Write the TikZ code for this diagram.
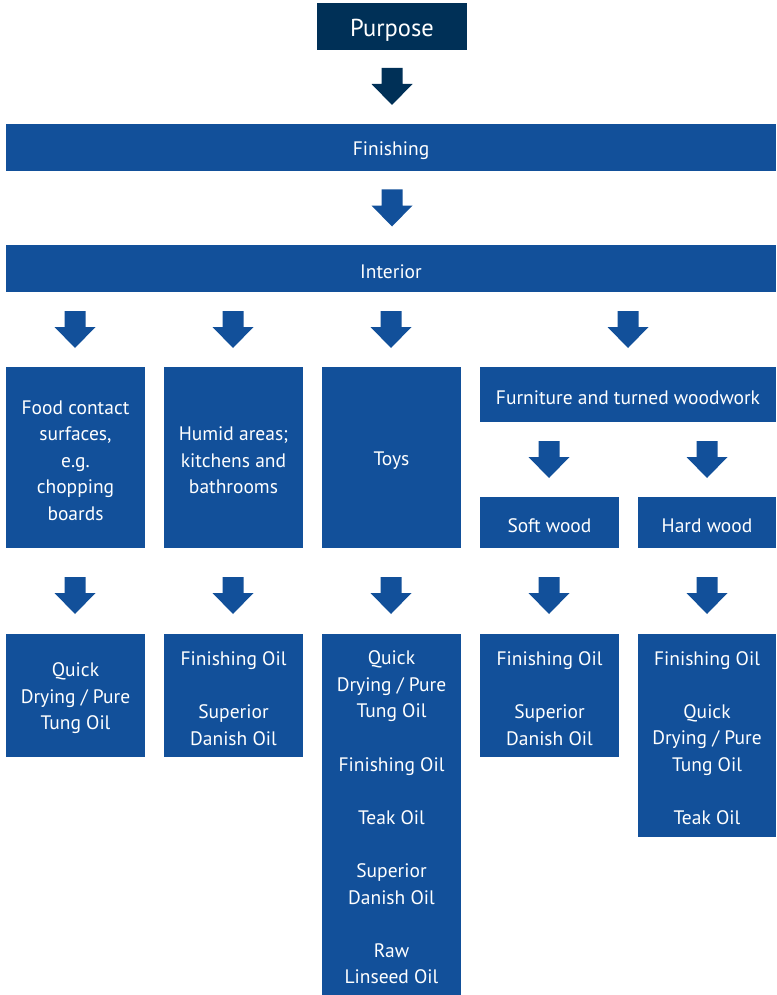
\documentclass[tikz,border=0pt]{standalone}
\usepackage{fontspec}
\setmainfont{PT Sans}
\definecolor{navy}{RGB}{0,48,87}
\definecolor{blu}{RGB}{18,80,154}
\begin{document}
\begin{tikzpicture}[x=1pt,y=-1pt,
  box/.style={fill=blu,inner sep=0pt},
  txt/.style={text=white,inner sep=0pt,align=center,yshift=-3pt,
    font=\fontsize{19.5}{26.6}\selectfont},
  pics/darrow/.style={code={\fill[#1] (-10.5,0) -- (10.5,0) -- (10.5,16) -- (20.5,16)
     -- (0,37) -- (-20.5,16) -- (-10.5,16) -- cycle;}}]
\useasboundingbox (0,0) rectangle (776,995);
\node[box,fill=navy,minimum width=150pt,minimum height=47pt] (purpose) at (392,26.5) {};
\node[txt,yshift=-1pt,font=\fontsize{24.5}{28}\selectfont] (purpose-t) at (purpose.center) {Purpose};
\node[box,minimum width=770pt,minimum height=47pt] (finishing) at (391,147.5) {};
\node[txt] (finishing-t) at (finishing.center) {Finishing};
\node[box,minimum width=770pt,minimum height=47pt] (interior) at (391,268.5) {};
\node[txt] (interior-t) at (interior.center) {Interior};
% second level
\node[box,minimum width=139pt,minimum height=181pt] (food) at (75.5,457.5) {};
\node[txt] (food-t) at (food.center) {Food contact\\surfaces,\\e.g.\\chopping\\boards};
\node[box,minimum width=139pt,minimum height=181pt] (humid) at (233.5,457.5) {};
\node[txt] (humid-t) at (humid.center) {Humid areas;\\kitchens and\\bathrooms};
\node[box,minimum width=139pt,minimum height=181pt] (toys) at (391.5,457.5) {};
\node[txt] (toys-t) at (toys.center) {Toys};
\node[box,minimum width=296pt,minimum height=55pt] (furn) at (628,394.5) {};
\node[txt] (furn-t) at (furn.center) {Furniture and turned woodwork};
\node[box,minimum width=139pt,minimum height=51pt] (soft) at (549.5,522.5) {};
\node[txt] (soft-t) at (soft.center) {Soft wood};
\node[box,minimum width=138pt,minimum height=51pt] (hard) at (707,522.5) {};
\node[txt] (hard-t) at (hard.center) {Hard wood};
% oils
\node[box,minimum width=139pt,minimum height=123pt] (ofood) at (75.5,695.5) {};
\node[txt] (ofood-t) at (ofood.center) {Quick\\Drying / Pure\\Tung Oil};
\node[box,minimum width=139pt,minimum height=123pt] (ohumid) at (233.5,695.5) {};
\node[txt] (ohumid-t) at (ohumid.center) {Finishing Oil\\[26.6pt]Superior\\Danish Oil};
\node[box,minimum width=139pt,minimum height=361pt] (otoys) at (391.5,814.5) {};
\node[txt] (otoys-t) at (otoys.center) {Quick\\Drying / Pure\\Tung Oil\\[26.6pt]Finishing Oil\\[26.6pt]Teak Oil\\[26.6pt]Superior\\Danish Oil\\[26.6pt]Raw\\Linseed Oil};
\node[box,minimum width=139pt,minimum height=123pt] (osoft) at (549.5,695.5) {};
\node[txt] (osoft-t) at (osoft.center) {Finishing Oil\\[26.6pt]Superior\\Danish Oil};
\node[box,minimum width=138pt,minimum height=203pt] (ohard) at (707,735) {};
\node[txt] (ohard-t) at (ohard.center) {Finishing Oil\\[26.6pt]Quick\\Drying / Pure\\Tung Oil\\[26.6pt]Teak Oil};
% arrows
\pic at (392,68) {darrow=navy};
\pic at (392,189.5) {darrow=blu};
\foreach \x in {75,233,391,628} \pic at (\x,311) {darrow=blu};
\foreach \x in {549,707} \pic at (\x,441) {darrow=blu};
\foreach \x in {75,233,391,549,707} \pic at (\x,577) {darrow=blu};
\end{tikzpicture}
\end{document}
